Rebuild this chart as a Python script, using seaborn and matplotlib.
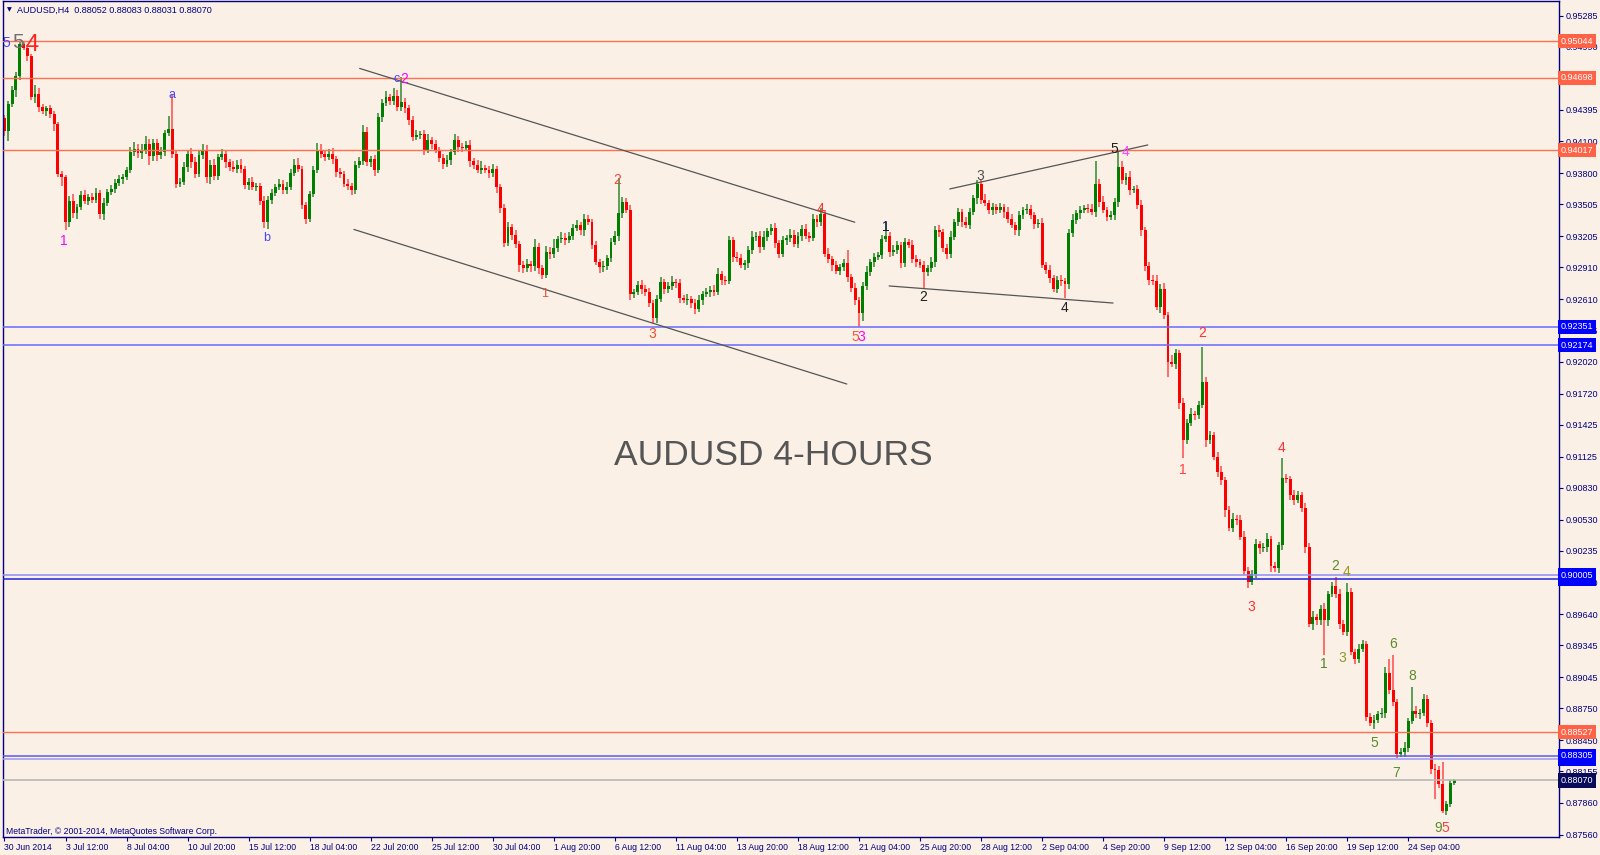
import matplotlib
matplotlib.use('Agg')
import matplotlib.pyplot as plt
import seaborn as sns
import numpy as np

# AUDUSD H4 candles, closes in pips above 0.87000 (open = previous close)
first_open = 732
close_pips = [
    720, 745, 758, 772, 802, 798, 790, 752, 755, 742, 739, 741, 736, 726, 679, 676, 634, 654, 642, 648,
    659, 654, 657, 655, 661, 641, 652, 662, 665, 671, 674, 676, 683, 700, 703, 699, 702, 707, 696, 708,
    697, 700, 718, 722, 698, 670, 672, 686, 698, 690, 679, 697, 702, 676, 688, 677, 695, 698, 690, 686,
    684, 688, 684, 669, 672, 667, 668, 654, 634, 655, 661, 667, 670, 664, 667, 680, 688, 684, 650, 637,
    660, 683, 702, 698, 695, 698, 693, 681, 679, 670, 668, 664, 688, 691, 719, 690, 693, 683, 733, 746,
    752, 748, 753, 742, 747, 741, 730, 714, 716, 717, 702, 711, 707, 702, 694, 689, 692, 700, 711, 705,
    704, 706, 691, 688, 683, 685, 683, 680, 684, 667, 647, 614, 629, 622, 613, 593, 590, 594, 592, 610,
    590, 584, 606, 604, 609, 618, 619, 617, 621, 628, 631, 626, 637, 634, 612, 596, 591, 592, 600, 615,
    621, 642, 653, 645, 566, 568, 574, 571, 568, 557, 543, 561, 577, 571, 573, 577, 576, 562, 560, 561,
    557, 552, 560, 566, 568, 570, 568, 585, 579, 578, 617, 601, 600, 593, 595, 607, 620, 621, 610, 620,
    625, 628, 614, 604, 617, 619, 622, 613, 621, 627, 621, 619, 637, 634, 641, 604, 599, 593, 588, 591,
    595, 582, 572, 560, 548, 573, 587, 596, 601, 603, 618, 621, 606, 607, 612, 595, 615, 612, 599, 596,
    593, 587, 590, 596, 626, 624, 609, 604, 620, 634, 643, 634, 631, 643, 656, 670, 655, 652, 645, 648,
    645, 648, 643, 637, 631, 626, 640, 645, 646, 640, 632, 633, 593, 589, 581, 571, 579, 578, 575, 623,
    636, 642, 645, 647, 646, 643, 670, 653, 645, 639, 640, 653, 686, 673, 676, 664, 665, 650, 626, 592,
    579, 578, 554, 571, 546, 502, 500, 510, 463, 428, 444, 453, 452, 461, 483, 428, 433, 412, 398, 390,
    362, 345, 354, 353, 337, 305, 294, 302, 330, 326, 327, 335, 309, 307, 329, 392, 391, 376, 372, 376,
    364, 327, 255, 261, 258, 269, 258, 283, 290, 283, 255, 247, 285, 228, 222, 231, 236, 167, 161, 164,
    170, 171, 208, 192, 181, 132, 134, 138, 163, 173, 170, 171, 184, 161, 118, 117, 104, 78, 85, 105,
    107]

upper_wick = [
    3, 3, 4, 3, 2, 2, 3, 2, 8, 5, 3, 2, 3, 3, 2, 3, 2, 4, 6, 3,
    4, 5, 3, 4, 5, 3, 4, 3, 4, 3, 4, 3, 3, 5, 6, 4, 5, 8, 5, 4,
    4, 5, 3, 12, 33, 3, 3, 4, 4, 6, 5, 4, 5, 4, 4, 5, 3, 5, 4, 3,
    5, 4, 5, 3, 3, 4, 3, 3, 4, 3, 4, 3, 4, 3, 5, 4, 5, 6, 3, 3,
    3, 4, 6, 5, 4, 5, 6, 3, 4, 3, 4, 3, 3, 4, 6, 4, 3, 4, 4, 4,
    5, 3, 7, 5, 24, 4, 3, 4, 5, 3, 4, 6, 3, 4, 3, 4, 5, 3, 6, 4,
    3, 4, 5, 3, 4, 6, 3, 4, 5, 3, 3, 4, 5, 3, 4, 3, 4, 5, 3, 8,
    4, 3, 5, 4, 9, 3, 5, 4, 3, 4, 5, 3, 4, 3, 3, 4, 3, 5, 3, 4,
    4, 33, 4, 3, 5, 3, 4, 5, 3, 4, 3, 4, 5, 3, 4, 6, 3, 4, 3, 5,
    3, 4, 5, 3, 4, 3, 4, 5, 3, 4, 4, 3, 5, 4, 3, 4, 5, 3, 4, 5,
    3, 4, 5, 3, 4, 3, 5, 4, 3, 4, 5, 3, 4, 3, 6, 4, 5, 3, 4, 3,
    4, 12, 3, 4, 3, 4, 5, 3, 4, 3, 4, 13, 3, 5, 4, 3, 4, 3, 5, 4,
    3, 4, 3, 5, 4, 5, 3, 4, 5, 3, 4, 3, 5, 4, 3, 3, 4, 5, 3, 4,
    3, 4, 3, 5, 4, 3, 4, 3, 5, 4, 3, 4, 5, 3, 4, 3, 4, 5, 3, 4,
    5, 3, 4, 3, 4, 5, 21, 4, 5, 3, 4, 3, 14, 5, 4, 6, 3, 4, 5, 3,
    4, 5, 6, 4, 5, 3, 6, 4, 3, 5, 4, 5, 3, 4, 33, 5, 4, 3, 5, 6,
    3, 4, 5, 3, 4, 5, 3, 4, 5, 3, 4, 5, 3, 4, 3, 19, 4, 3, 5, 4,
    3, 5, 4, 6, 3, 4, 5, 3, 4, 9, 5, 3, 8, 4, 3, 5, 4, 3, 4, 5,
    3, 4, 6, 14, 33, 3, 4, 5, 3, 22, 4, 3, 5, 4, 3, 5, 4, 20, 3, 2,
    1]

lower_wick = [
    5, 10, 3, 6, 4, 2, 4, 3, 6, 4, 3, 5, 4, 6, 3, 8, 8, 5, 4, 5,
    3, 3, 4, 3, 3, 4, 5, 3, 3, 4, 3, 4, 3, 3, 4, 5, 6, 4, 8, 5,
    6, 4, 4, 3, 4, 4, 3, 3, 5, 5, 4, 3, 4, 5, 6, 4, 4, 3, 5, 4,
    3, 4, 4, 4, 5, 3, 4, 4, 6, 7, 4, 3, 3, 4, 4, 3, 3, 3, 4, 5,
    3, 3, 3, 4, 4, 3, 4, 5, 4, 3, 4, 5, 4, 3, 3, 3, 4, 6, 3, 5,
    3, 4, 4, 3, 3, 4, 5, 4, 3, 4, 5, 3, 4, 3, 4, 5, 3, 4, 3, 5,
    4, 3, 5, 4, 3, 4, 3, 5, 4, 6, 5, 4, 3, 5, 4, 6, 4, 3, 5, 4,
    5, 4, 3, 5, 4, 3, 4, 5, 3, 4, 3, 4, 5, 3, 4, 3, 5, 4, 3, 4,
    3, 5, 4, 3, 6, 4, 3, 5, 4, 3, 5, 4, 3, 5, 4, 3, 4, 5, 3, 4,
    4, 5, 3, 4, 3, 5, 4, 3, 5, 4, 3, 5, 4, 3, 4, 5, 3, 4, 5, 3,
    4, 3, 5, 4, 3, 5, 4, 3, 4, 5, 3, 4, 3, 5, 4, 3, 4, 5, 3, 4,
    3, 5, 4, 4, 13, 8, 3, 4, 5, 3, 4, 3, 5, 4, 3, 5, 4, 3, 4, 5,
    3, 16, 4, 3, 5, 4, 3, 5, 4, 3, 4, 5, 3, 4, 3, 5, 4, 3, 4, 5,
    4, 3, 5, 4, 3, 4, 5, 3, 4, 3, 5, 4, 3, 4, 5, 3, 4, 5, 13, 4,
    3, 4, 5, 3, 4, 3, 4, 5, 3, 4, 3, 4, 5, 3, 4, 5, 3, 4, 5, 4,
    5, 4, 3, 6, 4, 14, 3, 5, 6, 17, 4, 3, 5, 4, 3, 6, 4, 3, 5, 4,
    6, 3, 4, 5, 3, 4, 5, 3, 4, 5, 3, 4, 5, 3, 4, 5, 3, 4, 5, 3,
    4, 5, 3, 6, 4, 4, 33, 5, 3, 4, 5, 3, 4, 3, 5, 4, 3, 4, 3, 5,
    3, 4, 5, 3, 4, 4, 3, 5, 4, 3, 4, 5, 3, 4, 5, 27, 4, 2, 4, 3,
    2]

date_ticks = list(range(0, 369, 16))
date_labels = ['30 Jun 2014', '3 Jul 12:00', '8 Jul 04:00', '10 Jul 20:00', '15 Jul 12:00',
               '18 Jul 04:00', '22 Jul 20:00', '25 Jul 12:00', '30 Jul 04:00', '1 Aug 20:00',
               '6 Aug 12:00', '11 Aug 04:00', '13 Aug 20:00', '18 Aug 12:00', '21 Aug 04:00',
               '25 Aug 20:00', '28 Aug 12:00', '2 Sep 04:00', '4 Sep 20:00', '9 Sep 12:00',
               '12 Sep 04:00', '16 Sep 20:00', '19 Sep 12:00', '24 Sep 04:00']

# 0.94690 sits fully under the 0.94698 box in the reference, so it is left out
price_ticks = [0.95285, 0.94990, 0.94395, 0.94100, 0.93800, 0.93505, 0.93205, 0.92910,
               0.92610, 0.92315, 0.92020, 0.91720, 0.91425, 0.91125, 0.90830, 0.90530, 0.90235,
               0.89940, 0.89640, 0.89345, 0.89045, 0.88750, 0.88450, 0.88155, 0.87860, 0.87560]

# horizontal levels
red_levels = [0.95044, 0.94698, 0.94017, 0.88527]
blue_levels = [0.92351, 0.92174, 0.89974, 0.90005, 0.88274, 0.88305]
blue_line_colors = ['#6A6AFF', '#6A6AFF', '#2424D8', '#8C8CF8', '#9A9AF4', '#5A5AF0']
bid_level = 0.88070

# trend lines: bar index pairs and price pairs
trend_x = [[93.1, 222.9], [91.6, 220.8], [247.8, 299.7], [231.9, 290.6]]
trend_y = [[0.94787, 0.93336], [0.93268, 0.91810], [0.93650, 0.94065], [0.92735, 0.92574]]

# wave labels: text, bar, price, colour, size
wave_labels = [
    ('5', 0.6, 0.95030, '#4646FF', 10), ('5', 3.5, 0.95027, '#707070', 15), ('4', 7.2, 0.95008, '#FF2020', 17),
    ('1', 15.6, 0.93159, '#FF00FF', 10), ('a', 43.8, 0.94537, '#4646FF', 9), ('b', 68.8, 0.93187, '#4646FF', 9),
    ('c', 102.9, 0.94687, '#4646FF', 9), ('2', 104.7, 0.94687, '#FF00FF', 10),
    ('1', 141.7, 0.92659, '#E05040', 9), ('2', 160.5, 0.93735, '#F04A40', 10), ('3', 169.9, 0.92282, '#F05030', 10),
    ('4', 213.8, 0.93461, '#FF3030', 10), ('5', 223.0, 0.92257, '#FF5A30', 10), ('3', 224.7, 0.92257, '#FF00FF', 10),
    ('1', 231.1, 0.93291, '#10104A', 10), ('2', 240.8, 0.92634, '#202020', 10), ('3', 255.9, 0.93772, '#505050', 10),
    ('4', 278.0, 0.92527, '#202020', 10), ('5', 290.8, 0.94027, '#202020', 10), ('4', 293.9, 0.94002, '#FF44FF', 10),
    ('2', 313.9, 0.92291, '#FF3030', 10), ('1', 308.9, 0.90999, '#FF4040', 10), ('4', 334.8, 0.91206, '#FF3030', 10),
    ('3', 326.9, 0.89709, '#FF3030', 10),
    ('2', 348.9, 0.90093, '#5B8C2A', 10), ('4', 351.8, 0.90039, '#9A9A1A', 10), ('1', 345.9, 0.89169, '#4A8A2A', 10),
    ('3', 350.8, 0.89225, '#8A9A2A', 10), ('6', 363.9, 0.89357, '#5B8C2A', 10), ('5', 359.0, 0.88426, '#5B8C2A', 10),
    ('8', 368.9, 0.89055, '#5B8C2A', 10), ('7', 364.9, 0.88143, '#5B8C2A', 10), ('9', 375.8, 0.87625, '#5B8C2A', 10),
    ('5', 377.8, 0.87625, '#FF4040', 10)]

BG = '#FAF0E6'
NAVY = '#000080'

sns.set_style('white', {'axes.facecolor': BG, 'figure.facecolor': BG})
plt.rcParams['font.family'] = ['Liberation Sans', 'DejaVu Sans']

fig = plt.figure(figsize=(16, 8.55), dpi=100)
ax = fig.add_axes([3 / 1600, 18 / 855, 1556 / 1600, 836 / 855])
ax.set_facecolor(BG)

bars = np.arange(len(close_pips))
c = 0.87 + np.array(close_pips) / 10000
o = np.concatenate([[0.87 + first_open / 10000], c[:-1]])
hi = np.maximum(o, c) + np.array(upper_wick) / 10000
lo = np.minimum(o, c) - np.array(lower_wick) / 10000
up = c >= o

body_h = np.maximum(np.abs(c - o), 0.00009)
body_b = np.minimum(o, c) - (body_h - np.abs(c - o)) / 2

ax.vlines(bars, lo, hi, colors=np.where(up, '#2F882F', '#FF4A4A'), lw=1.1, zorder=2)
ax.bar(bars, body_h, bottom=body_b, width=0.76, color=np.where(up, '#007E00', '#FF0000'),
       linewidth=0, zorder=2.1)

for p in red_levels:
    ax.axhline(p, color='#FF6F52', lw=1, zorder=3)
for p, col in zip(blue_levels, blue_line_colors):
    ax.axhline(p, color=col, lw=1.1, zorder=3)
ax.axhline(bid_level, color='#B8B8B8', lw=1.2, zorder=3)

for tx, ty in zip(trend_x, trend_y):
    sns.lineplot(x=tx, y=ty, ax=ax, color='#555555', lw=0.9, zorder=3, legend=False)

for txt, bx, py, col, fs in wave_labels:
    ax.text(bx, py, txt, color=col, fontsize=fs, ha='center', va='center', zorder=5)

ax.text(201.6, 0.91131, 'AUDUSD 4-HOURS', color='#555555', fontsize=25.5,
        ha='center', va='center', zorder=5)

ax.set_xlim(-0.39, 407.5)
ax.set_ylim(0.87537, 0.95423)

ax.yaxis.tick_right()
ax.set_yticks(price_ticks)
ax.set_yticklabels([f'{p:.5f}' for p in price_ticks])
ax.set_xticks(date_ticks)
ax.set_xticklabels(date_labels, ha='left')
ax.tick_params(axis='y', which='both', left=False, right=True, labelleft=False, labelright=True,
               direction='out', length=3, width=0.8, color=NAVY, labelcolor=NAVY, labelsize=6.5, pad=2)
ax.tick_params(axis='x', bottom=True, direction='out', length=3, width=0.8, color=NAVY,
               labelcolor=NAVY, labelsize=6.2, pad=1)
for s in ax.spines.values():
    s.set_color(NAVY)
    s.set_linewidth(1)
ax.grid(False)

# price boxes on the right axis
ytr = ax.get_yaxis_transform()
box_kw = dict(transform=ytr, ha='left', va='center', fontsize=6.5, color='white', zorder=6, clip_on=False)
for p in red_levels:
    ax.text(1.0012, p, f'{p:.5f}', bbox=dict(boxstyle='square,pad=0.28', fc='#FF6347', ec='none'), **box_kw)
for p in blue_levels:
    ax.text(1.0012, p, f'{p:.5f}', bbox=dict(boxstyle='square,pad=0.28', fc='#0000FF', ec='none'), **box_kw)
ax.text(1.0012, bid_level, f'{bid_level:.5f}', bbox=dict(boxstyle='square,pad=0.28', fc='#0A0A5A', ec='none'),
        **box_kw)

# header and footer
fig.text(9.5 / 1600, 1 - 10 / 855, '\u25bc', fontsize=4.5, family='DejaVu Sans', color=NAVY,
         ha='center', va='center')
fig.text(17 / 1600, 1 - 10 / 855, 'AUDUSD,H4  0.88052 0.88083 0.88031 0.88070', fontsize=6.5,
         color=NAVY, va='center')
fig.text(6 / 1600, 1 - 831 / 855, 'MetaTrader, \u00a9 2001-2014, MetaQuotes Software Corp.', fontsize=6.2,
         color=NAVY, va='center')

fig.savefig('out.png', dpi=100, facecolor=BG)
